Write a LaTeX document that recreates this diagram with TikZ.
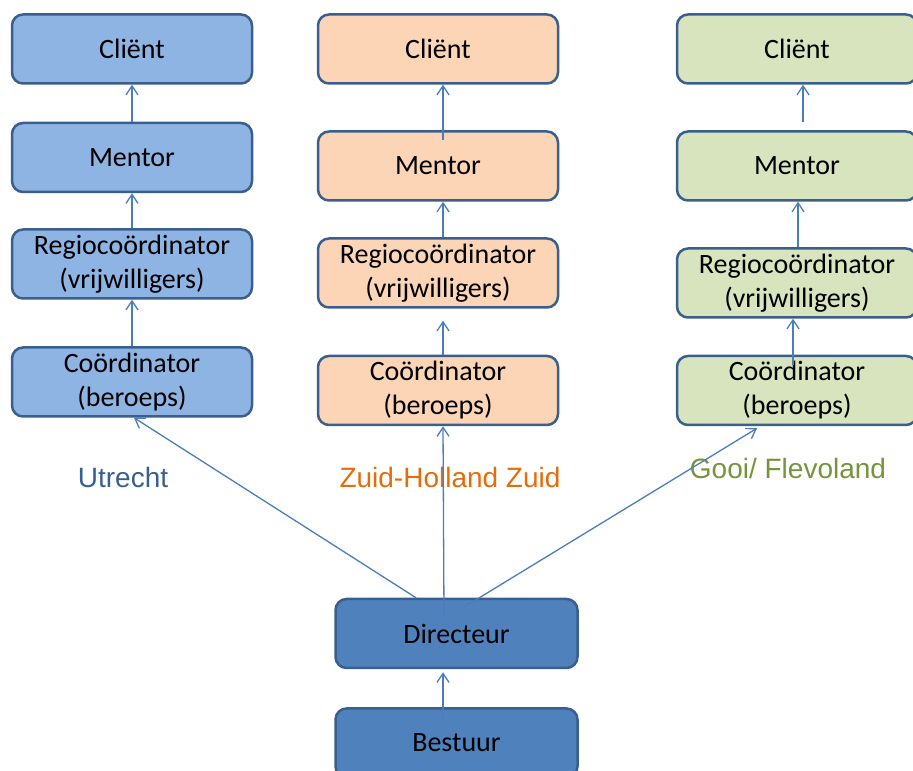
\documentclass[tikz,border=0pt]{standalone}
\usepackage{fontspec}
\setmainfont{Carlito}
\newfontfamily\regiofont{Liberation Sans}
\usetikzlibrary{arrows.meta,positioning}

\definecolor{utrfill}{HTML}{8EB4E3}
\definecolor{zhzfill}{HTML}{FBD5B5}
\definecolor{gooifill}{HTML}{D7E4BD}
\definecolor{topfill}{HTML}{4F81BD}
\definecolor{rand}{HTML}{3A5F8E}
\definecolor{pijlkleur}{HTML}{4A7EBB}
\definecolor{utrtext}{HTML}{376092}
\definecolor{zhztext}{HTML}{E46C0A}
\definecolor{gooitext}{HTML}{77933C}

\begin{document}
\begin{tikzpicture}[x=1pt,y=1pt,
    blok/.style={draw=rand,line width=2.5pt,rounded corners=11pt,minimum width=240pt,minimum height=69pt,inner sep=0pt,align=center,font=\fontsize{28}{34}\selectfont},
    pijl/.style={draw=pijlkleur,line width=1.3pt,-{Straight Barb[length=9pt,width=12pt]}},
    regio/.style={font=\regiofont\fontsize{28}{34}\selectfont,anchor=base}]
    \useasboundingbox (0,0) rectangle (913,771);

    % Utrecht
    \node[blok,fill=utrfill] (clientU) at (132,722) {Cliënt};
    \node[blok,fill=utrfill] (mentorU) at (132,613.5) {Mentor};
    \node[blok,fill=utrfill] (regioU) at (132,507) {Regiocoördinator\\(vrijwilligers)};
    \node[blok,fill=utrfill] (coordU) at (132,389) {Coördinator\\(beroeps)};

    % Zuid-Holland Zuid
    \node[blok,fill=zhzfill] (clientZ) at (438,722) {Cliënt};
    \node[blok,fill=zhzfill] (mentorZ) at (438,605) {Mentor};
    \node[blok,fill=zhzfill] (regioZ) at (438,498) {Regiocoördinator\\(vrijwilligers)};
    \node[blok,fill=zhzfill] (coordZ) at (438,380.5) {Coördinator\\(beroeps)};

    % Gooi/ Flevoland
    \node[blok,fill=gooifill] (clientG) at (797,722) {Cliënt};
    \node[blok,fill=gooifill] (mentorG) at (797,605) {Mentor};
    \node[blok,fill=gooifill] (regioG) at (797,488) {Regiocoördinator\\(vrijwilligers)};
    \node[blok,fill=gooifill] (coordG) at (797,380.5) {Coördinator\\(beroeps)};

    \node[blok,fill=topfill,minimum width=242pt] (directeur) at (456.5,137.5) {Directeur};
    \node[blok,fill=topfill,minimum width=242pt] (bestuur) at (456.5,28) {Bestuur};

    \node[regio,text=utrtext] (labU) at (123,283) {Utrecht};
    \node[regio,text=zhztext] (labZ) at (450,283) {Zuid-Holland Zuid};
    \node[regio,text=gooitext] (labG) at (788,292) {Gooi/ Flevoland};

    \draw[pijl] (mentorU.north) -- (clientU.south);
    \draw[pijl] (regioU.north) -- (mentorU.south);
    \draw[pijl] (coordU.north) -- (regioU.south);

    \draw[pijl] ([xshift=5pt,yshift=-10pt]mentorZ.north) -- ([xshift=5pt]clientZ.south);
    \draw[pijl] ([xshift=5pt]regioZ.north) -- ([xshift=5pt]mentorZ.south);
    \draw[pijl] ([xshift=5pt]coordZ.north) -- ([xshift=5pt,yshift=-12pt]regioZ.south);

    \draw[pijl] ([xshift=6pt,yshift=8pt]mentorG.north) -- ([xshift=6pt]clientG.south);
    \draw[pijl] ([xshift=1pt]regioG.north) -- ([xshift=1pt]mentorG.south);
    \draw[pijl] ([xshift=-4pt,yshift=-10pt]coordG.north) -- ([xshift=-4pt]regioG.south);

    \draw[pijl] ([xshift=-40.5pt]directeur.north) -- ([xshift=2pt]coordU.south);
    \draw[pijl] ([xshift=-12.5pt,yshift=-17pt]directeur.north) -- ([xshift=5pt]coordZ.south);
    \draw[pijl] ([xshift=6.5pt,yshift=-10pt]directeur.north) -- ([xshift=-40pt,yshift=-2pt]coordG.south);
    \draw[pijl] ([xshift=-13.5pt,yshift=-11pt]bestuur.north) -- ([xshift=-13.5pt,yshift=-3pt]directeur.south);
\end{tikzpicture}
\end{document}
